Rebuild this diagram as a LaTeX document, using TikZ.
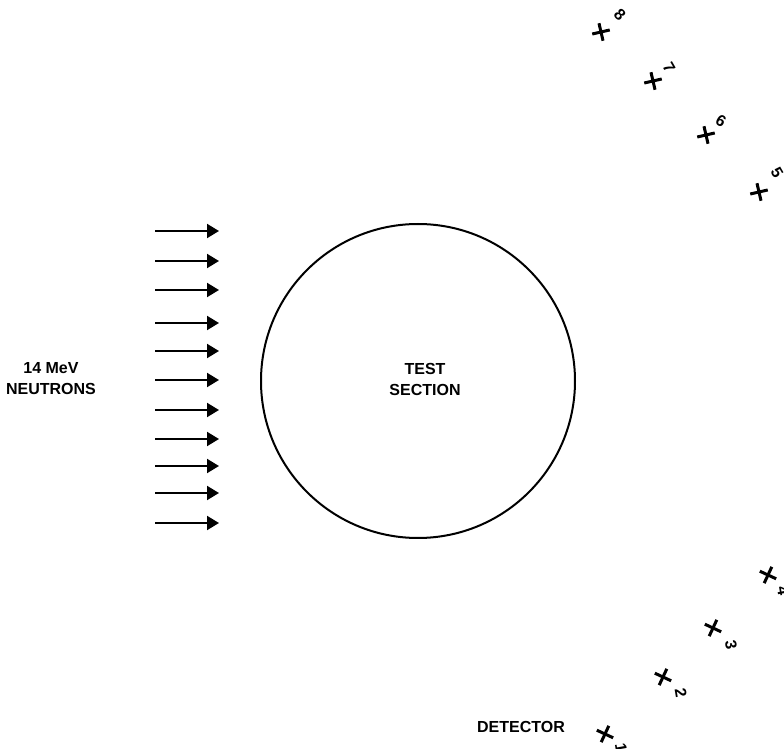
\documentclass[tikz,border=0pt]{standalone}
\usepackage{fontspec}
\setmainfont{Liberation Sans}
\usetikzlibrary{arrows.meta}
\tikzset{
  lbl/.style={font=\fontsize{8}{10.5}\selectfont\bfseries, align=center, inner sep=0pt},
  digit/.style={font=\fontsize{8}{9}\selectfont\bfseries, inner sep=0pt},
  detx/.pic={\draw[line width=1.5pt] (#1:9) -- (#1+180:9) (#1+90:9) -- (#1+270:9);},
  beam/.style={-{Triangle[length=6pt, width=7pt]}, line width=1pt},
  ring/.style={circle, draw, line width=1pt, minimum size=157pt, inner sep=0pt},
}
\begin{document}
\begin{tikzpicture}[x=0.5pt, y=-0.5pt]
  \useasboundingbox (0,0) rectangle (784,749);

  % source
  \node[lbl] (src) at (51,379) {14 MeV\\NEUTRONS};
  \foreach \y [count=\i] in {231,261,290,323,351,380,410,439,466,493,523} {
    \coordinate (a\i) at (155,\y);
    \coordinate (b\i) at (219,\y);
    \draw[beam] (a\i) -- (b\i);
  }

  % test section
  \node[ring] (ts) at (418,381) {};
  \node[lbl] (tstext) at (425,379) {TEST\\SECTION};

  % detector positions
  \pic (d8) at (601,32) {detx=-13};
  \pic (d7) at (653,81) {detx=-13};
  \pic (d6) at (706,135) {detx=-13};
  \pic (d5) at (759,192) {detx=-13};
  \pic (d4) at (768,575) {detx=25};
  \pic (d3) at (713,628) {detx=25};
  \pic (d2) at (663,677) {detx=25};
  \pic (d1) at (605,734) {detx=25};

  \node[digit, rotate=-45] (n8) at (620,15) {8};
  \node[digit, rotate=-60] (n7) at (669,68) {7};
  \node[digit, rotate=-30] (n6) at (721,121) {6};
  \node[digit, rotate=-60] (n5) at (777,173) {5};
  \node[digit, rotate=-80] (n4) at (783,591) {4};
  \node[digit, rotate=-80] (n3) at (731,645) {3};
  \node[digit, rotate=-80] (n2) at (681,693) {2};
  \node[digit, rotate=-80] (n1) at (621,748) {1};

  \node[lbl] (dtext) at (521,727) {DETECTOR};
\end{tikzpicture}
\end{document}
